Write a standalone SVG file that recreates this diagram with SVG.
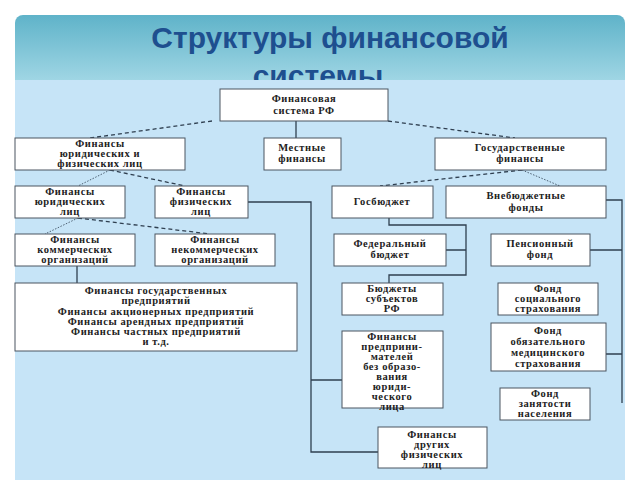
<svg xmlns="http://www.w3.org/2000/svg" width="640" height="480" viewBox="0 0 640 480">
<defs>
<linearGradient id="hg" x1="0" y1="0" x2="0" y2="1"><stop offset="0" stop-color="#5fb3c9"/><stop offset="1" stop-color="#a9dbe8"/></linearGradient>
<style>
.b{fill:#fff;stroke:#4a5560;stroke-width:1}
.t{font-family:"Liberation Serif","DejaVu Serif",serif;font-size:10.5px;font-weight:bold;letter-spacing:0.6px;fill:#222;text-anchor:middle}
.s{fill:none;stroke:#2f3f50;stroke-width:1.3}
.d{fill:none;stroke:#2f3f50;stroke-width:1.3;stroke-dasharray:4 3}
.o{fill:none;stroke:#2f3f50;stroke-width:0.8;stroke-dasharray:1.5 1.5}
</style>
</defs>
<rect width="640" height="480" fill="#fff"/>
<rect x="15" y="15" width="610" height="75" rx="8" fill="url(#hg)"/>
<text x="330" y="48" font-family="Liberation Sans,sans-serif" font-size="30" font-weight="bold" fill="#1e4f8f" text-anchor="middle">Структуры финансовой</text>
<text x="318" y="86" font-family="Liberation Sans,sans-serif" font-size="30" font-weight="bold" fill="#1e4f8f" text-anchor="middle">системы</text>
<rect x="15" y="80" width="610" height="400" fill="#c6e4f7"/>
<g id="connectors">
<path class="d" d="M212,121 L90,138"/>
<path class="s" d="M296,121 V138"/>
<path class="d" d="M388,121 L515,138"/>
<path class="o" d="M110,170 L78,186"/>
<path class="d" d="M110,170 L185,186"/>
<path class="o" d="M78,218 L45,234"/>
<path class="d" d="M78,218 L210,234"/>
<path class="d" d="M522,170 L380,186"/>
<path class="o" d="M522,170 L560,186"/>
<path class="s" d="M389,218 V225 H466 V275 H389 V283 M446,250 H466"/>
<path class="s" d="M606,200 H622 V403 M590,250 H622 M606,354 H622"/>
<path class="s" d="M248,202 H311 V452 H378 M311,380 H342"/>
<path class="s" d="M77,266 V283"/>
</g>
<g id="n1"><rect class="b" x="220" y="89" width="168" height="32"/><text class="t" x="304" y="102">Финансовая</text><text class="t" x="304" y="114">система РФ</text></g>
<g id="n2"><rect class="b" x="15" y="138" width="170" height="32"/><text class="t" x="100" y="147">Финансы</text><text class="t" x="100" y="157">юридических и</text><text class="t" x="100" y="167">физических лиц</text></g>
<g id="n3"><rect class="b" x="264" y="138" width="77" height="32"/><text class="t" x="302" y="151">Местные</text><text class="t" x="302" y="162">финансы</text></g>
<g id="n4"><rect class="b" x="435" y="138" width="171" height="32"/><text class="t" x="520" y="151">Государственные</text><text class="t" x="520" y="162">финансы</text></g>
<g id="n5"><rect class="b" x="15" y="186" width="110" height="32"/><text class="t" x="70" y="195">Финансы</text><text class="t" x="70" y="205">юридических</text><text class="t" x="70" y="215">лиц</text></g>
<g id="n6"><rect class="b" x="155" y="186" width="93" height="32"/><text class="t" x="201" y="195">Финансы</text><text class="t" x="201" y="205">физических</text><text class="t" x="201" y="215">лиц</text></g>
<g id="n7"><rect class="b" x="332" y="186" width="101" height="32"/><text class="t" x="382" y="205">Госбюджет</text></g>
<g id="n8"><rect class="b" x="446" y="186" width="160" height="32"/><text class="t" x="526" y="199">Внебюджетные</text><text class="t" x="526" y="211">фонды</text></g>
<g id="n9"><rect class="b" x="15" y="234" width="120" height="32"/><text class="t" x="75" y="243">Финансы</text><text class="t" x="75" y="253">коммерческих</text><text class="t" x="75" y="263">организаций</text></g>
<g id="n10"><rect class="b" x="155" y="234" width="120" height="32"/><text class="t" x="215" y="243">Финансы</text><text class="t" x="215" y="253">некоммерческих</text><text class="t" x="215" y="263">организаций</text></g>
<g id="n11"><rect class="b" x="334" y="234" width="112" height="32"/><text class="t" x="390" y="247">Федеральный</text><text class="t" x="390" y="258">бюджет</text></g>
<g id="n12"><rect class="b" x="491" y="234" width="99" height="32"/><text class="t" x="540" y="247">Пенсионный</text><text class="t" x="540" y="258">фонд</text></g>
<g id="n13"><rect class="b" x="15" y="283" width="282" height="68"/><text class="t" x="156" y="294">Финансы государственных</text><text class="t" x="156" y="304">предприятий</text><text class="t" x="156" y="315">Финансы акционерных предприятий</text><text class="t" x="156" y="325">Финансы арендных предприятий</text><text class="t" x="156" y="335">Финансы частных предприятий</text><text class="t" x="156" y="345">и т.д.</text></g>
<g id="n14"><rect class="b" x="342" y="283" width="101" height="32"/><text class="t" x="392" y="292">Бюджеты</text><text class="t" x="392" y="302">субъектов</text><text class="t" x="392" y="312">РФ</text></g>
<g id="n15"><rect class="b" x="498" y="283" width="100" height="32"/><text class="t" x="548" y="292">Фонд</text><text class="t" x="548" y="302">социального</text><text class="t" x="548" y="312">страхования</text></g>
<g id="n16"><rect class="b" x="491" y="323" width="115" height="48"/><text class="t" x="548" y="334">Фонд</text><text class="t" x="548" y="345">обязательного</text><text class="t" x="548" y="356">медицинского</text><text class="t" x="548" y="367">страхования</text></g>
<g id="n17"><rect class="b" x="342" y="331" width="101" height="77"/><text class="t" x="392" y="340">Финансы</text><text class="t" x="392" y="350">предприни-</text><text class="t" x="392" y="360">мателей</text><text class="t" x="392" y="370">без образо-</text><text class="t" x="392" y="380">вания</text><text class="t" x="392" y="390">юриди-</text><text class="t" x="392" y="400">ческого</text><text class="t" x="392" y="410">лица</text></g>
<g id="n18"><rect class="b" x="500" y="388" width="90" height="32"/><text class="t" x="545" y="397">Фонд</text><text class="t" x="545" y="407">занятости</text><text class="t" x="545" y="417">населения</text></g>
<g id="n19"><rect class="b" x="378" y="427" width="109" height="41"/><text class="t" x="432" y="438">Финансы</text><text class="t" x="432" y="448">других</text><text class="t" x="432" y="458">физических</text><text class="t" x="432" y="468">лиц</text></g>
</svg>
